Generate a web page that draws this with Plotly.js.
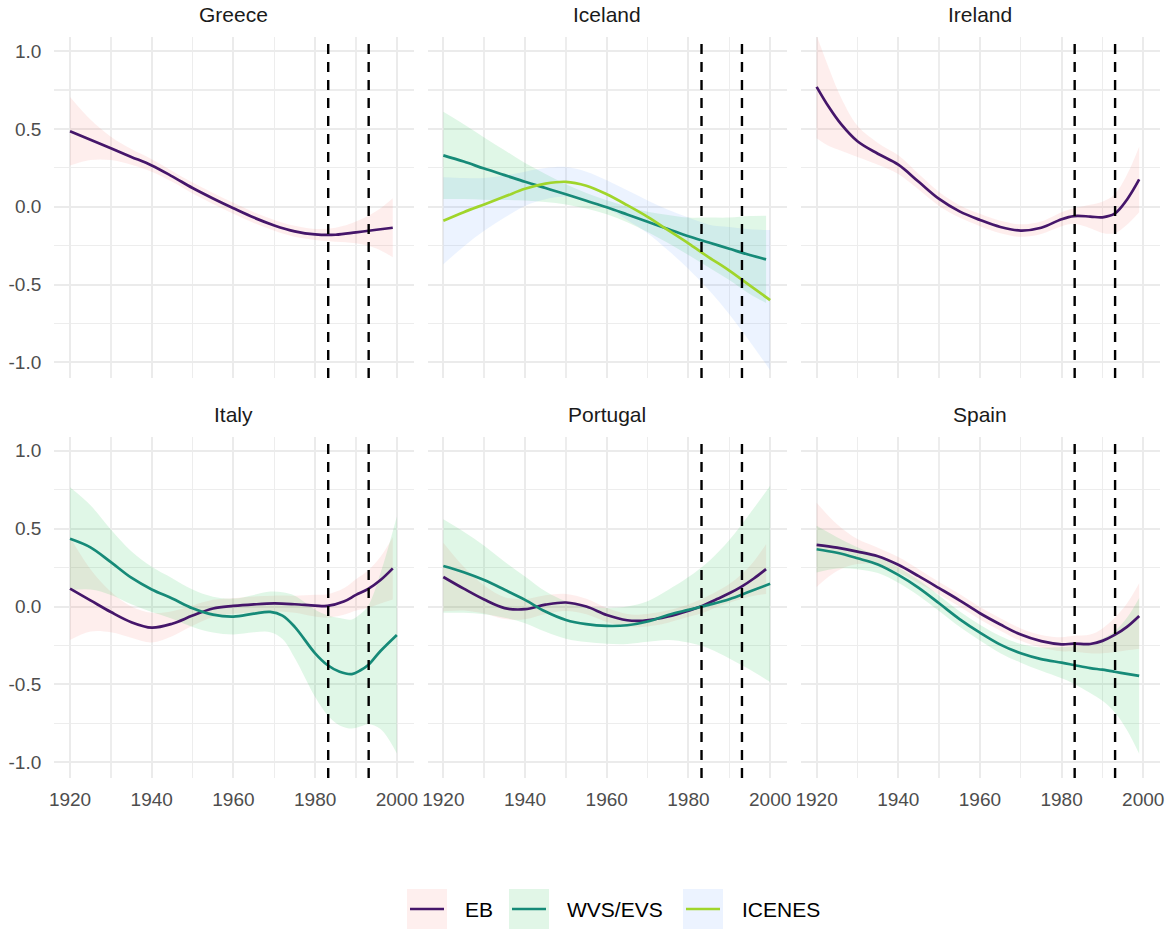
<!DOCTYPE html>
<html>
<head>
<meta charset="utf-8">
<script src="https://cdn.plot.ly/plotly-3.0.1.min.js"></script>
<style>
  html, body { margin: 0; padding: 0; background: #ffffff; }
  #chart { width: 1170px; height: 936px; }
</style>
</head>
<body>
<div id="chart"></div>
<script>
// ---------------- DATA ----------------
const countries = ['Greece', 'Iceland', 'Ireland', 'Italy', 'Portugal', 'Spain'];
const seriesNames = ['EB', 'WVS/EVS', 'ICENES'];
const xTickVals = [1920, 1940, 1960, 1980, 2000];
const xTickText = ['1920', '1940', '1960', '1980', '2000'];
const yTickVals = [-1, -0.5, 0, 0.5, 1];
const yTickText = ['-1.0', '-0.5', '0.0', '0.5', '1.0'];
const breakYears = [1983.2, 1993.1];

// Greece
const greeceEB_year = [1920, 1925, 1930, 1935, 1940, 1945, 1950, 1955, 1960, 1965, 1970, 1975, 1980, 1985, 1990, 1995, 1999];
const greeceEB_fit  = [0.485, 0.43, 0.375, 0.32, 0.265, 0.195, 0.12, 0.053, -0.01, -0.07, -0.12, -0.158, -0.178, -0.18, -0.165, -0.148, -0.135];
const greeceEB_ci   = [0.22, 0.13, 0.075, 0.05, 0.04, 0.035, 0.035, 0.035, 0.035, 0.035, 0.035, 0.035, 0.035, 0.045, 0.07, 0.12, 0.19];

// Iceland
const icelandWVS_year = [1920, 1925, 1930, 1935, 1940, 1945, 1950, 1955, 1960, 1965, 1970, 1975, 1980, 1985, 1990, 1995, 1999];
const icelandWVS_fit  = [0.33, 0.29, 0.245, 0.203, 0.16, 0.12, 0.08, 0.038, -0.004, -0.05, -0.097, -0.143, -0.19, -0.23, -0.27, -0.31, -0.338];
const icelandWVS_ci   = [0.28, 0.24, 0.2, 0.16, 0.12, 0.09, 0.065, 0.05, 0.045, 0.05, 0.065, 0.09, 0.12, 0.16, 0.2, 0.25, 0.28];
const icelandICE_year = [1920, 1925, 1930, 1935, 1940, 1945, 1950, 1955, 1960, 1965, 1970, 1975, 1980, 1985, 1990, 1995, 2000];
const icelandICE_fit  = [-0.09, -0.035, 0.015, 0.065, 0.115, 0.148, 0.16, 0.135, 0.08, 0.01, -0.065, -0.15, -0.235, -0.325, -0.41, -0.505, -0.6];
const icelandICE_ci   = [0.28, 0.22, 0.17, 0.135, 0.11, 0.1, 0.095, 0.09, 0.09, 0.095, 0.105, 0.13, 0.165, 0.21, 0.28, 0.36, 0.45];

// Ireland
const irelandEB_year = [1920, 1923, 1926, 1930, 1935, 1940, 1945, 1950, 1955, 1960, 1965, 1970, 1975, 1980, 1983, 1987, 1990, 1993, 1996, 1999];
const irelandEB_fit  = [0.77, 0.64, 0.53, 0.42, 0.34, 0.27, 0.16, 0.05, -0.03, -0.085, -0.13, -0.153, -0.135, -0.08, -0.06, -0.063, -0.068, -0.045, 0.045, 0.175];
const irelandEB_ci   = [0.33, 0.25, 0.17, 0.1, 0.07, 0.06, 0.05, 0.045, 0.04, 0.04, 0.04, 0.04, 0.04, 0.045, 0.05, 0.075, 0.1, 0.125, 0.16, 0.21];

// Italy
const italyEB_year = [1920, 1925, 1930, 1935, 1940, 1945, 1950, 1955, 1960, 1965, 1970, 1975, 1980, 1983, 1987, 1990, 1993, 1996, 1999];
const italyEB_fit  = [0.115, 0.04, -0.035, -0.1, -0.135, -0.11, -0.058, -0.012, 0.004, 0.014, 0.02, 0.015, 0.006, 0.004, 0.032, 0.075, 0.113, 0.17, 0.245];
const italyEB_ci   = [0.33, 0.2, 0.13, 0.1, 0.095, 0.08, 0.065, 0.055, 0.05, 0.05, 0.05, 0.055, 0.07, 0.075, 0.085, 0.1, 0.12, 0.15, 0.2];
const italyWVS_year = [1920, 1925, 1930, 1935, 1940, 1945, 1950, 1955, 1960, 1965, 1969, 1972, 1975, 1980, 1983, 1986, 1989, 1991, 1993, 1996, 2000];
const italyWVS_fit  = [0.435, 0.38, 0.285, 0.185, 0.11, 0.052, -0.011, -0.052, -0.064, -0.045, -0.034, -0.058, -0.13, -0.3, -0.375, -0.418, -0.433, -0.41, -0.375, -0.285, -0.182];
const italyWVS_ci   = [0.33, 0.27, 0.21, 0.17, 0.145, 0.13, 0.12, 0.115, 0.115, 0.12, 0.13, 0.15, 0.2, 0.28, 0.32, 0.345, 0.35, 0.36, 0.38, 0.5, 0.76];

// Portugal
const portugalEB_year = [1920, 1925, 1930, 1935, 1940, 1945, 1950, 1955, 1960, 1965, 1968, 1972, 1975, 1980, 1983, 1987, 1990, 1993, 1996, 1999];
const portugalEB_fit  = [0.19, 0.115, 0.045, -0.01, -0.017, 0.012, 0.026, 0.0, -0.054, -0.088, -0.092, -0.08, -0.064, -0.026, 0.0, 0.048, 0.085, 0.128, 0.18, 0.24];
const portugalEB_ci   = [0.22, 0.14, 0.09, 0.07, 0.065, 0.06, 0.055, 0.05, 0.045, 0.04, 0.04, 0.04, 0.04, 0.04, 0.045, 0.05, 0.06, 0.08, 0.11, 0.16];
const portugalWVS_year = [1920, 1925, 1930, 1935, 1940, 1945, 1950, 1955, 1960, 1965, 1970, 1975, 1980, 1985, 1990, 1995, 2000];
const portugalWVS_fit  = [0.26, 0.22, 0.17, 0.108, 0.043, -0.032, -0.086, -0.113, -0.124, -0.12, -0.096, -0.054, -0.021, 0.011, 0.047, 0.096, 0.146];
const portugalWVS_ci   = [0.3, 0.26, 0.22, 0.18, 0.15, 0.13, 0.12, 0.115, 0.115, 0.12, 0.13, 0.16, 0.21, 0.28, 0.38, 0.5, 0.63];

// Spain
const spainEB_year = [1920, 1925, 1930, 1935, 1940, 1945, 1950, 1955, 1960, 1965, 1970, 1975, 1980, 1983, 1987, 1990, 1993, 1996, 1999];
const spainEB_fit  = [0.396, 0.378, 0.353, 0.323, 0.268, 0.195, 0.118, 0.04, -0.043, -0.115, -0.18, -0.222, -0.242, -0.238, -0.24, -0.22, -0.182, -0.13, -0.06];
const spainEB_ci   = [0.27, 0.15, 0.08, 0.055, 0.05, 0.045, 0.04, 0.04, 0.04, 0.04, 0.04, 0.04, 0.045, 0.05, 0.06, 0.08, 0.11, 0.15, 0.21];
const spainWVS_year = [1920, 1925, 1930, 1935, 1940, 1945, 1950, 1955, 1960, 1965, 1970, 1975, 1980, 1983, 1987, 1990, 1993, 1996, 1999];
const spainWVS_fit  = [0.368, 0.345, 0.31, 0.27, 0.203, 0.12, 0.021, -0.08, -0.167, -0.244, -0.3, -0.337, -0.36, -0.375, -0.395, -0.405, -0.418, -0.432, -0.445];
const spainWVS_ci   = [0.15, 0.1, 0.07, 0.055, 0.05, 0.05, 0.05, 0.05, 0.05, 0.055, 0.06, 0.075, 0.1, 0.12, 0.16, 0.2, 0.26, 0.36, 0.5];

// ---------------- STYLE ----------------
const lineColors = { 'EB': '#45166A', 'WVS/EVS': '#168A78', 'ICENES': '#A0D52B' };
const fillColors = { 'EB': 'rgba(248,118,109,0.12)', 'WVS/EVS': 'rgba(0,186,56,0.12)', 'ICENES': 'rgba(97,156,255,0.12)' };
const legendFill = { 'EB': '#FEEFEE', 'WVS/EVS': '#E1F6E7', 'ICENES': '#ECF3FF' };
const FONT = '"Liberation Sans", Arial, Helvetica, sans-serif';

const panels = [
  { country: 'Greece',   series: [['EB', greeceEB_year, greeceEB_fit, greeceEB_ci]] },
  { country: 'Iceland',  series: [['WVS/EVS', icelandWVS_year, icelandWVS_fit, icelandWVS_ci], ['ICENES', icelandICE_year, icelandICE_fit, icelandICE_ci]] },
  { country: 'Ireland',  series: [['EB', irelandEB_year, irelandEB_fit, irelandEB_ci]] },
  { country: 'Italy',    series: [['EB', italyEB_year, italyEB_fit, italyEB_ci], ['WVS/EVS', italyWVS_year, italyWVS_fit, italyWVS_ci]] },
  { country: 'Portugal', series: [['EB', portugalEB_year, portugalEB_fit, portugalEB_ci], ['WVS/EVS', portugalWVS_year, portugalWVS_fit, portugalWVS_ci]] },
  { country: 'Spain',    series: [['EB', spainEB_year, spainEB_fit, spainEB_ci], ['WVS/EVS', spainWVS_year, spainWVS_fit, spainWVS_ci]] }
];

// ---------------- LAYOUT GEOMETRY (pixels) ----------------
const W = 1170, H = 936;
const M = { l: 54, r: 10, t: 37, b: 158 };
const PW = W - M.l - M.r, PH = H - M.t - M.b;
const px2x = p => (p - M.l) / PW;
const px2y = p => (H - M.b - p) / PH;
const colPx = [[54.3, 413.6], [427.6, 786.9], [800.9, 1160]];
const rowPx = [[37, 378], [436.7, 778]];

const traces = [];
const layout = {
  width: W, height: H,
  margin: M,
  paper_bgcolor: '#ffffff',
  plot_bgcolor: '#ffffff',
  showlegend: false,
  font: { family: FONT, color: '#1A1A1A' },
  annotations: [],
  shapes: []
};

panels.forEach((p, i) => {
  const r = Math.floor(i / 3), c = i % 3;
  const k = i === 0 ? '' : String(i + 1);
  const xa = 'xaxis' + k, ya = 'yaxis' + k, xr = 'x' + k, yr = 'y' + k;
  layout[xa] = {
    domain: [px2x(colPx[c][0]), px2x(colPx[c][1])],
    range: [1916.15, 2004.1],
    anchor: yr,
    tickmode: 'array', tickvals: xTickVals, ticktext: xTickText,
    showticklabels: r === 1,
    ticks: '', ticklabelstandoff: 8,
    tickfont: { family: FONT, size: 19, color: '#4D4D4D' },
    showgrid: true, gridcolor: '#EBEBEB', gridwidth: 2,
    minor: { tickvals: [1930, 1950, 1970, 1990], showgrid: true, gridcolor: '#EDEDED', gridwidth: 1.4 },
    zeroline: false, showline: false, fixedrange: true
  };
  layout[ya] = {
    domain: [px2y(rowPx[r][1]), px2y(rowPx[r][0])],
    range: [-1.1, 1.09],
    anchor: xr,
    tickmode: 'array', tickvals: yTickVals, ticktext: yTickText,
    showticklabels: c === 0,
    ticks: '', ticklabelstandoff: 12,
    tickfont: { family: FONT, size: 19, color: '#4D4D4D' },
    showgrid: true, gridcolor: '#EBEBEB', gridwidth: 2,
    minor: { tickvals: [-0.75, -0.25, 0.25, 0.75], showgrid: true, gridcolor: '#EDEDED', gridwidth: 1.4 },
    zeroline: false, showline: false, fixedrange: true
  };

  p.series.forEach(s => {
    const [name, xs, fit, ci] = s;
    const hi = fit.map((v, j) => v + ci[j]);
    const lo = fit.map((v, j) => v - ci[j]);
    traces.push({ type: 'scatter', mode: 'lines', x: xs, y: hi, xaxis: xr, yaxis: yr,
      line: { width: 0, shape: 'spline', color: fillColors[name] }, hoverinfo: 'skip', showlegend: false });
    traces.push({ type: 'scatter', mode: 'lines', x: xs, y: lo, xaxis: xr, yaxis: yr,
      fill: 'tonexty', fillcolor: fillColors[name],
      line: { width: 0, shape: 'spline', color: fillColors[name] }, hoverinfo: 'skip', showlegend: false });
  });
  p.series.forEach(s => {
    const [name, xs, fit] = s;
    traces.push({ type: 'scatter', mode: 'lines', x: xs, y: fit, xaxis: xr, yaxis: yr, name: name,
      line: { width: 2.7, shape: 'spline', color: lineColors[name] }, showlegend: false });
  });

  breakYears.forEach(yv => {
    layout.shapes.push({ type: 'line', xref: xr, yref: yr + ' domain', x0: yv, x1: yv, y0: 0, y1: 1,
      line: { color: '#000000', width: 2.4, dash: '10px,8px' }, layer: 'above' });
  });

  // facet strip title
  layout.annotations.push({
    text: p.country, xref: 'paper', yref: 'paper',
    x: px2x((colPx[c][0] + colPx[c][1]) / 2), y: px2y(r === 0 ? 15 : 415),
    xanchor: 'center', yanchor: 'middle', showarrow: false,
    font: { family: FONT, size: 21, color: '#1A1A1A' }
  });
});

// ---------------- LEGEND (bottom, centred) ----------------
const legendKeys = [
  { name: 'EB', key: 407, text: 463 },
  { name: 'WVS/EVS', key: 509, text: 565 },
  { name: 'ICENES', key: 683, text: 740 }
];
const legTop = 889, legBot = 929, legMid = 909;
legendKeys.forEach(k => {
  layout.shapes.push({ type: 'rect', xref: 'paper', yref: 'paper',
    x0: px2x(k.key), x1: px2x(k.key + 40), y0: px2y(legBot), y1: px2y(legTop),
    fillcolor: legendFill[k.name], line: { width: 0 } });
  layout.shapes.push({ type: 'line', xref: 'paper', yref: 'paper',
    x0: px2x(k.key + 3), x1: px2x(k.key + 37), y0: px2y(legMid), y1: px2y(legMid),
    line: { color: lineColors[k.name], width: 2.7 } });
  layout.annotations.push({ text: k.name, xref: 'paper', yref: 'paper',
    x: px2x(k.text), y: px2y(legMid), xanchor: 'left', yanchor: 'middle', showarrow: false,
    font: { family: FONT, size: 21, color: '#000000' } });
});

Plotly.newPlot('chart', traces, layout, { staticPlot: true, displayModeBar: false });
</script>
</body>
</html>
